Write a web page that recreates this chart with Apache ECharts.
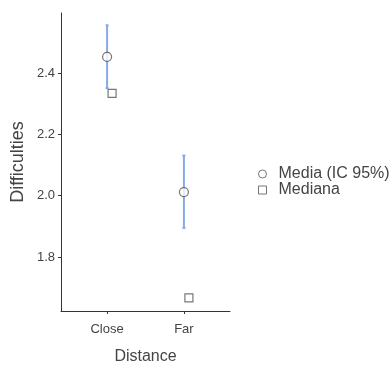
<!DOCTYPE html>
<html><head><meta charset="utf-8">
<script src="https://cdn.jsdelivr.net/npm/echarts@6/dist/echarts.min.js"></script>
<style>html,body{margin:0;padding:0;background:#fff}#c{width:391px;height:365px}</style>
</head><body><div id="c"></div>
<script>
var categories = ['Close', 'Far'];
var means = [2.453, 2.012];
var ciLow = [2.351, 1.895];
var ciHigh = [2.556, 2.131];
var medians = [2.334, 1.667];
var yTicks = [1.8, 2.0, 2.2, 2.4];

var font = 'Liberation Sans, Arial, sans-serif';
var chart = echarts.init(document.getElementById('c'));
var idx = categories.map(function(_, i){ return i; });
var markStyle = {color: '#fff', borderColor: '#555', borderWidth: 1.2};
chart.setOption({
  animation: false,
  grid: {left: 61, right: 161, top: 13, bottom: 54, outerBoundsMode: 'none'},
  legend: {
    orient: 'vertical', left: 258, top: 166, padding: 0, itemWidth: 8, itemHeight: 8, itemGap: 0,
    textStyle: {fontFamily: font, fontSize: 16, color: '#444', lineHeight: 15, padding: [0, 0, 0, 7]},
    data: [
      {name: 'Media (IC 95%)', icon: 'circle', itemStyle: {color: '#fff', borderColor: '#555', borderWidth: 1}},
      {name: 'Mediana', icon: 'rect', itemStyle: {color: '#fff', borderColor: '#555', borderWidth: 1}}
    ]
  },
  xAxis: {
    type: 'value', min: -0.6, max: 1.6,
    name: 'Distance', nameLocation: 'middle', nameGap: 38,
    nameTextStyle: {fontFamily: font, fontSize: 16, color: '#444'},
    splitLine: {show: false},
    axisLine: {show: true, onZero: false, lineStyle: {color: '#333', width: 1}},
    axisTick: {show: true, length: 3, customValues: idx, lineStyle: {color: '#333'}},
    axisLabel: {customValues: idx, formatter: function(v){ return categories[Math.round(v)]; },
      fontFamily: font, fontSize: 13, color: '#444', margin: 12}
  },
  yAxis: {
    type: 'value', min: 1.624, max: 2.596,
    name: 'Difficulties', nameLocation: 'middle', nameGap: 34,
    nameTextStyle: {fontFamily: font, fontSize: 18, color: '#444'},
    splitLine: {show: false},
    axisLine: {show: true, onZero: false, lineStyle: {color: '#333', width: 1}},
    axisTick: {show: true, length: 3, customValues: yTicks, lineStyle: {color: '#333'}},
    axisLabel: {customValues: yTicks, formatter: function(v){ return v.toFixed(1); },
      fontFamily: font, fontSize: 13, color: '#444', margin: 6}
  },
  series: [
    {
      type: 'custom', name: 'ci', silent: true,
      data: idx.map(function(i){ return [i, ciLow[i], ciHigh[i]]; }),
      renderItem: function(params, api){
        var lo = api.coord([api.value(0), api.value(1)]);
        var hi = api.coord([api.value(0), api.value(2)]);
        var st = {stroke: '#85aae8', lineWidth: 2};
        return {type: 'group', children: [
          {type: 'line', shape: {x1: lo[0], y1: lo[1], x2: hi[0], y2: hi[1]}, style: st},
          {type: 'line', shape: {x1: lo[0]-1.5, y1: lo[1], x2: lo[0]+1.5, y2: lo[1]}, style: st},
          {type: 'line', shape: {x1: hi[0]-1.5, y1: hi[1], x2: hi[0]+1.5, y2: hi[1]}, style: st}
        ]};
      },
      z: 1
    },
    {
      type: 'scatter', name: 'Media (IC 95%)', symbol: 'circle', symbolSize: 9,
      data: idx.map(function(i){ return [i, means[i]]; }),
      itemStyle: markStyle, z: 3
    },
    {
      type: 'scatter', name: 'Mediana', symbol: 'rect', symbolSize: 8, symbolOffset: [5, 0],
      data: idx.map(function(i){ return [i, medians[i]]; }),
      itemStyle: markStyle, z: 3
    }
  ]
});
</script></body></html>
